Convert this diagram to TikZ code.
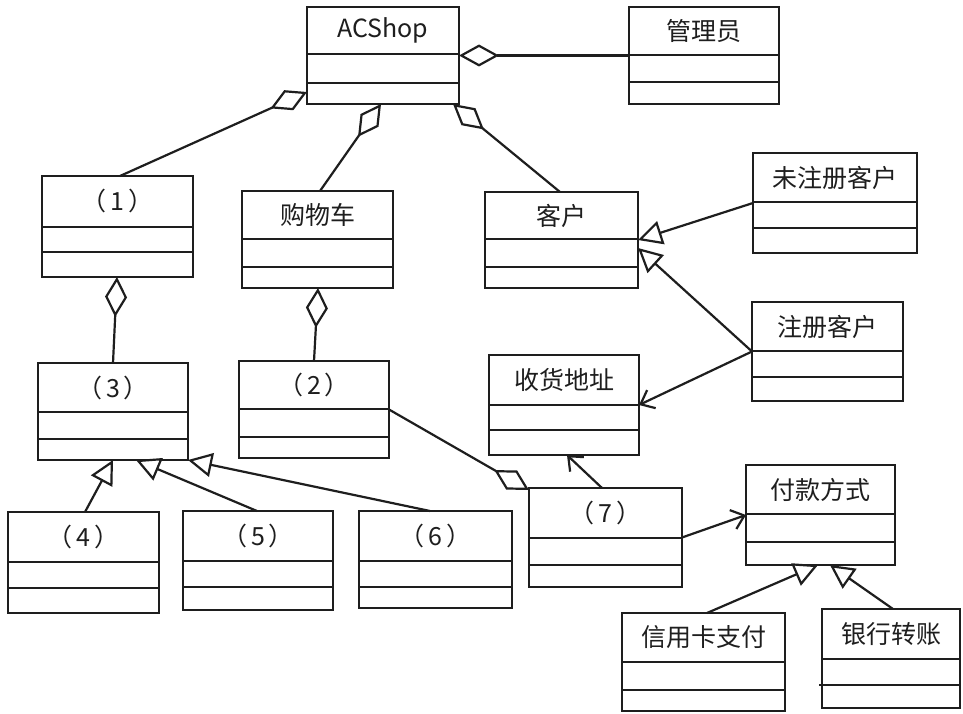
\documentclass[tikz,border=0pt]{standalone}
\usepackage{fontspec}
\setmainfont{Noto Sans CJK SC}
\usetikzlibrary{arrows.meta,calc}
\definecolor{ink}{RGB}{30,30,30}
\tikzset{
  classbox/.style={draw=ink, line width=2.3pt, fill=white, inner sep=0pt, outer sep=0pt, anchor=north west},
  divider/.style={draw=ink, line width=2.3pt},
  classname/.style={inner sep=0pt, font=\fontsize{25pt}{28pt}\selectfont, text=ink},
  link/.style={draw=ink, line width=2.2pt},
  aggr/.style={link, {Diamond[length=40pt, width=22pt, fill=white]}-},
  inherit/.style={link, -{Triangle[length=24pt, width=24pt, fill=white]}},
  assoc/.style={link, -{Straight Barb[length=12pt, width=20pt]}},
}
% #1 name, #2 left, #3 top, #4 right, #5 bottom, #6/#7 compartment lines, #8 class name
\newcommand\umlclass[8]{%
  \node[classbox, minimum width={#4pt-#2pt}, minimum height={#5pt-#3pt}] (#1) at (#2,#3) {};
  \draw[divider] (#2,#6) -- (#4,#6) (#2,#7) -- (#4,#7);
  \node[classname] (#1-name) at ({(#2+#4)/2},{(#3+#6)/2}) {#8};
}
% numbered placeholder, printed with wide full-width brackets
\newcommand\numtag[1]{（\hspace{4pt}#1\hspace{4pt}）}
\begin{document}
\begin{tikzpicture}[x=1pt, y=-1pt]
  \fill[white] (0,0) rectangle (963,714);
  \useasboundingbox (0,0) rectangle (963,714);

  % classes
  \umlclass{acshop}{307}{7}{459}{104}{54}{83}{ACShop}
  \umlclass{admin}{629}{7}{779}{104}{55}{82}{管理员}
  \umlclass{c1}{42}{176}{193}{277}{227}{252}{\numtag{1}}
  \umlclass{cart}{242}{191}{393}{288}{239}{267}{购物车}
  \umlclass{cust}{485}{192}{638}{288}{239}{267}{客户}
  \umlclass{unreg}{753}{153}{917}{253}{202}{228}{未注册客户}
  \umlclass{reg}{752}{302}{903}{401}{351}{377}{注册客户}
  \umlclass{c3}{38}{363}{188}{460}{412}{439}{\numtag{3}}
  \umlclass{c2}{239}{361}{389}{458}{409}{437}{\numtag{2}}
  \umlclass{addr}{489}{355}{639}{455}{405}{430}{收货地址}
  \umlclass{c4}{8}{512}{159}{613}{562}{588}{\numtag{4}}
  \umlclass{c5}{183}{511}{333}{610}{561}{587}{\numtag{5}}
  \umlclass{c6}{359}{511}{512}{608}{561}{587}{\numtag{6}}
  \umlclass{c7}{529}{488}{682}{587}{538}{565}{\numtag{7}}
  \umlclass{pay}{746}{465}{895}{565}{514}{542}{付款方式}
  \umlclass{credit}{622}{613}{785}{711}{662}{690}{信用卡支付}
  \umlclass{bank}{822}{609}{960}{708}{659}{685}{银行转账}
  \draw[divider] (819,685) -- (822,685);

  % aggregations
  \draw[aggr] (acshop.east) -- (admin.west);
  \draw[aggr] ([yshift=12pt]acshop.south west) -- ([xshift=78pt]c1.north west);
  \draw[aggr] ([xshift=74pt]acshop.south west) -- ([xshift=78pt]cart.north west);
  \draw[aggr] ([xshift=-6pt]acshop.south east) -- ([xshift=75pt]cust.north west);
  \draw[aggr] ([xshift=75pt]c1.south west) -- ([xshift=75pt]c3.north west);
  \draw[aggr] ([xshift=76pt]cart.south west) -- ([xshift=75pt]c2.north west);
  \draw[aggr] ([yshift=-2pt]c7.north west) -- (c2.east);

  % generalizations
  \draw[inherit] (unreg.west) -- (cust.east);
  \draw[inherit] (reg.west) -- ([yshift=-8pt]cust.east);
  \draw[inherit] ([xshift=77pt]c4.north west) -- (c3.south);
  \draw[inherit] ([xshift=74pt]c5.north west) -- ([xshift=98pt]c3.south west);
  \draw[inherit] ([xshift=71pt]c6.north west) -- (c3.south east);
  \draw[inherit] ([xshift=85pt]credit.north west) -- ([xshift=72pt]pay.south west);
  \draw[inherit] ([xshift=71pt]bank.north west) -- ([xshift=84pt]pay.south west);

  % associations
  \draw[assoc] (reg.west) -- (addr.east);
  \draw[assoc] ([xshift=73pt]c7.north west) -- ([xshift=78pt]addr.south west);
  \draw[assoc] (c7.east) -- (pay.west);
\end{tikzpicture}
\end{document}
